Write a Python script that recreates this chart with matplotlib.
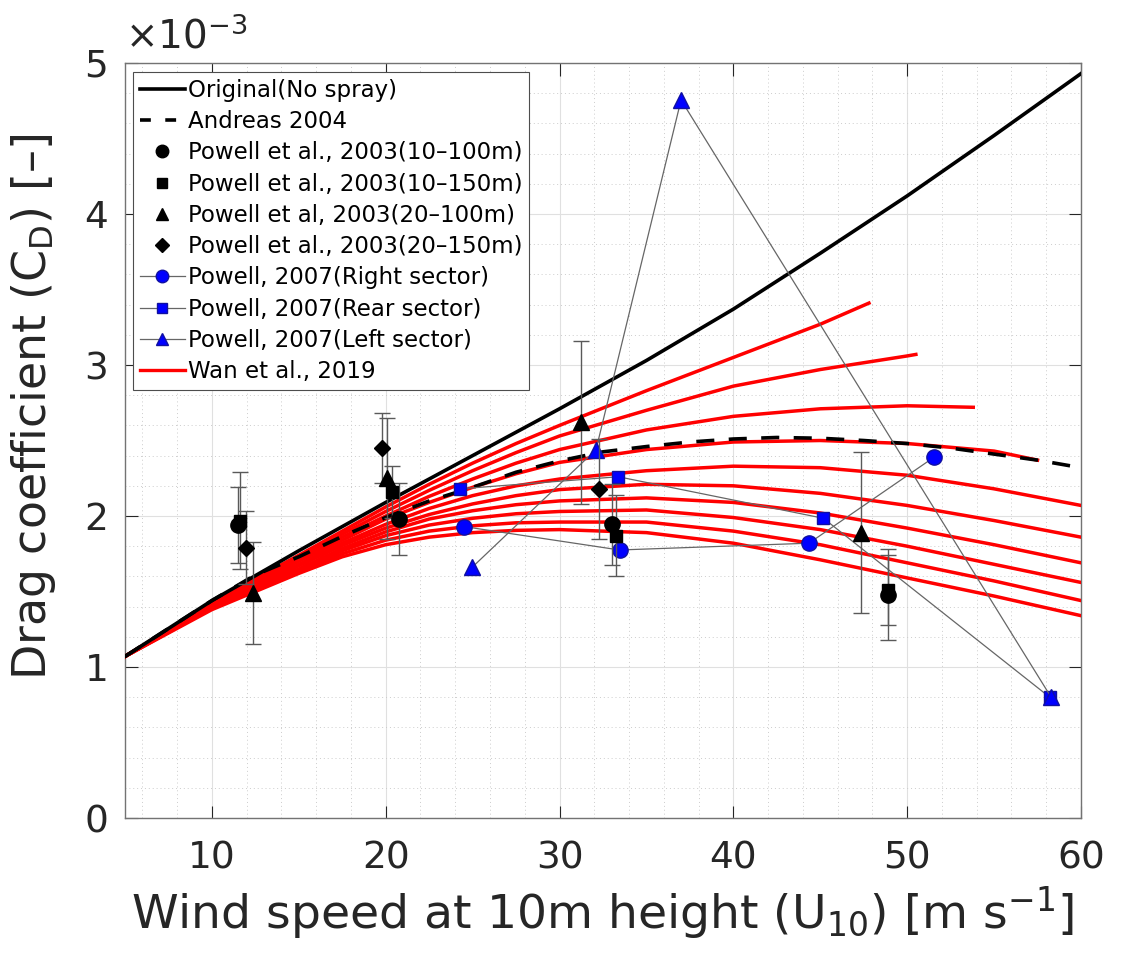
import matplotlib
matplotlib.use('Agg')
import matplotlib.pyplot as plt
from matplotlib.lines import Line2D
from matplotlib.ticker import MultipleLocator

plt.rcParams['font.family'] = ['DejaVu Sans']
plt.rcParams['mathtext.fontset'] = 'dejavusans'

# drag coefficients are in units of 1e-3
u_grid = [5, 10, 15, 20, 25, 30, 35, 40, 45, 50, 55, 60]
cd_original = [1.07, 1.44, 1.77, 2.09, 2.40, 2.71, 3.03, 3.37, 3.74, 4.12, 4.52, 4.93]

u_andreas = [5, 10, 12.5, 15, 17.5, 20, 22.5, 25, 27.5, 30, 32.5, 35, 37.5, 40,
             42.5, 45, 47.5, 50, 52.5, 55, 57.5, 60]
cd_andreas = [1.07, 1.44, 1.61, 1.73, 1.865, 1.99, 2.10, 2.19, 2.29, 2.365, 2.425, 2.46,
              2.49, 2.51, 2.52, 2.515, 2.50, 2.48, 2.45, 2.41, 2.37, 2.32]

# Wan et al. 2019 family; truncated curves end at wan_end with their last value
wan_u = [5, 10, 15, 17.5, 20, 22.5, 25, 27.5, 30, 35, 40, 45, 50, 55, 60]
wan_end = [47.8, 50.5, 53.8, 57.5, None, None, None, None, None, None]
wan_c1 = [1.07, 1.43, 1.74, 1.90, 2.06, 2.21, 2.35, 2.48, 2.60, 2.83, 3.05, 3.27, 3.41]
wan_c2 = [1.07, 1.42, 1.73, 1.88, 2.03, 2.17, 2.30, 2.42, 2.53, 2.70, 2.86, 2.97, 3.06, 3.07]
wan_c3 = [1.07, 1.42, 1.71, 1.86, 2.00, 2.13, 2.245, 2.35, 2.44, 2.57, 2.66, 2.71, 2.73, 2.72]
wan_c4 = [1.07, 1.41, 1.70, 1.84, 1.98, 2.09, 2.19, 2.28, 2.355, 2.44, 2.49, 2.50, 2.48, 2.43, 2.37]
wan_c5 = [1.07, 1.41, 1.68, 1.82, 1.945, 2.05, 2.135, 2.20, 2.245, 2.30, 2.33, 2.32, 2.27, 2.18, 2.07]
wan_c6 = [1.07, 1.40, 1.67, 1.805, 1.92, 2.01, 2.08, 2.135, 2.175, 2.21, 2.20, 2.15, 2.07, 1.97, 1.86]
wan_c7 = [1.07, 1.40, 1.65, 1.785, 1.895, 1.98, 2.035, 2.075, 2.10, 2.12, 2.09, 2.02, 1.92, 1.81, 1.69]
wan_c8 = [1.07, 1.39, 1.64, 1.77, 1.87, 1.94, 1.985, 2.015, 2.03, 2.04, 1.99, 1.91, 1.80, 1.68, 1.56]
wan_c9 = [1.07, 1.39, 1.63, 1.75, 1.84, 1.90, 1.935, 1.955, 1.96, 1.96, 1.90, 1.81, 1.69, 1.57, 1.44]
wan_c10 = [1.07, 1.38, 1.62, 1.73, 1.81, 1.86, 1.89, 1.905, 1.91, 1.89, 1.82, 1.71, 1.59, 1.47, 1.34]

# Powell et al. 2003
p03a_u = [11.48, 20.76, 33.0, 48.88]
p03a_cd = [1.94, 1.98, 1.945, 1.48]
p03a_err = [0.25, 0.24, 0.27, 0.30]
p03b_u = [11.6, 20.38, 33.23, 48.9]
p03b_cd = [1.97, 2.16, 1.87, 1.51]
p03b_err = [0.32, 0.17, 0.27, 0.23]
p03c_u = [12.38, 20.1, 31.24, 47.35]
p03c_cd = [1.49, 2.25, 2.62, 1.89]
p03c_err = [0.34, 0.40, 0.54, 0.535]
p03d_u = [11.94, 19.77, 32.27]
p03d_cd = [1.79, 2.45, 2.18]
p03d_err = [0.24, 0.23, 0.33]

# Powell 2007
p07r_u = [24.5, 33.45, 44.35, 51.55]
p07r_cd = [1.93, 1.775, 1.82, 2.39]
p07b_u = [24.28, 33.38, 45.18, 58.2]
p07b_cd = [2.18, 2.26, 1.985, 0.80]
p07l_u = [24.97, 32.1, 36.99, 58.28]
p07l_cd = [1.66, 2.44, 4.755, 0.80]

fig = plt.figure(figsize=(11.25, 9.69), dpi=100)
ax = fig.add_axes([0.1111, 0.1558, 0.8498, 0.7792])

axcol = '0.15'
ax.set_xlim(5, 60)
ax.set_ylim(0, 5)
ax.xaxis.set_major_locator(MultipleLocator(10))
ax.xaxis.set_minor_locator(MultipleLocator(2))
ax.yaxis.set_major_locator(MultipleLocator(1))
ax.yaxis.set_minor_locator(MultipleLocator(0.2))
ax.grid(which='major', color='0.88', linestyle='-', linewidth=0.8, zorder=0)
ax.grid(which='minor', color='0.8', linestyle=(0, (1, 3)), linewidth=0.7, zorder=0)
ax.set_axisbelow(True)
ax.tick_params(which='major', direction='in', top=True, right=True, length=9,
               width=0.8, color=axcol, labelcolor=axcol, labelsize=27)
ax.tick_params(axis='x', pad=16)
ax.tick_params(axis='y', pad=12)
ax.tick_params(which='minor', length=0)
for s in ax.spines.values():
    s.set_color('0.45')
    s.set_linewidth(1.0)

wan_curves = [wan_c1, wan_c2, wan_c3, wan_c4, wan_c5, wan_c6, wan_c7, wan_c8, wan_c9, wan_c10]
for i, cd in enumerate(wan_curves):
    if wan_end[i] is None:
        uu = wan_u[:len(cd)]
    else:
        uu = wan_u[:len(cd) - 1] + [wan_end[i]]
    ax.plot(uu, cd, color='red', lw=2.5, zorder=3)

ax.plot(u_grid, cd_original, color='black', lw=2.6, zorder=4)
ax.plot(u_andreas, cd_andreas, color='black', lw=2.6, ls=(0, (5, 4)), zorder=4)

ebkw = dict(ecolor='0.35', elinewidth=1.0, capsize=6, capthick=1.0, ls='none',
            color='black', zorder=6)
ax.errorbar(p03a_u, p03a_cd, yerr=p03a_err, marker='o', ms=11, **ebkw)
ax.errorbar(p03b_u, p03b_cd, yerr=p03b_err, marker='s', ms=9, **ebkw)
ax.errorbar(p03c_u, p03c_cd, yerr=p03c_err, marker='^', ms=11, **ebkw)
ax.errorbar(p03d_u, p03d_cd, yerr=p03d_err, marker='D', ms=8, **ebkw)

lkw = dict(color='0.4', lw=0.9, mfc='blue', mec='#1010a0', zorder=5)
ax.plot(p07r_u, p07r_cd, marker='o', ms=11, **lkw)
ax.plot(p07b_u, p07b_cd, marker='s', ms=9, **lkw)
ax.plot(p07l_u, p07l_cd, marker='^', ms=11, **lkw)

legend_items = [
    (Line2D([], [], color='black', lw=2.6), 'Original(No spray)'),
    (Line2D([], [], color='black', lw=2.6, ls=(0, (3, 4))), 'Andreas 2004'),
    (Line2D([], [], ls='none', marker='o', ms=9, color='black'), 'Powell et al., 2003(10\u2013100m)'),
    (Line2D([], [], ls='none', marker='s', ms=7, color='black'), 'Powell et al., 2003(10\u2013150m)'),
    (Line2D([], [], ls='none', marker='^', ms=9, color='black'), 'Powell et al, 2003(20\u2013100m)'),
    (Line2D([], [], ls='none', marker='D', ms=7, color='black'), 'Powell et al., 2003(20\u2013150m)'),
    (Line2D([], [], marker='o', ms=9, **lkw), 'Powell, 2007(Right sector)'),
    (Line2D([], [], marker='s', ms=7, **lkw), 'Powell, 2007(Rear sector)'),
    (Line2D([], [], marker='^', ms=9, **lkw), 'Powell, 2007(Left sector)'),
    (Line2D([], [], color='red', lw=2.4), 'Wan et al., 2019'),
]
leg = ax.legend([h for h, _ in legend_items], [t for _, t in legend_items],
                loc='upper left', bbox_to_anchor=(0.008, 0.988), borderaxespad=0,
                fontsize=16.5, handlelength=2.0, handletextpad=0.1, labelspacing=0.36,
                borderpad=0.3, fancybox=False, framealpha=1, edgecolor='0.3')
leg.get_frame().set_linewidth(0.8)
leg.set_zorder(10)

ax.set_xlabel('Wind speed at 10m height (U$_{10}$) [m s$^{-1}$]', fontsize=34,
              color=axcol, labelpad=6)
ax.set_ylabel('Drag coefficient (C$_{\\mathrm{D}}$) [\u2013]', fontsize=33,
              color=axcol)
ax.yaxis.set_label_coords(-0.07, 0.545)
ax.text(0.0, 1.008, r'$\times10^{-3}$', transform=ax.transAxes, fontsize=28,
        color=axcol, ha='left', va='bottom')

fig.savefig('out.png', dpi=100)
